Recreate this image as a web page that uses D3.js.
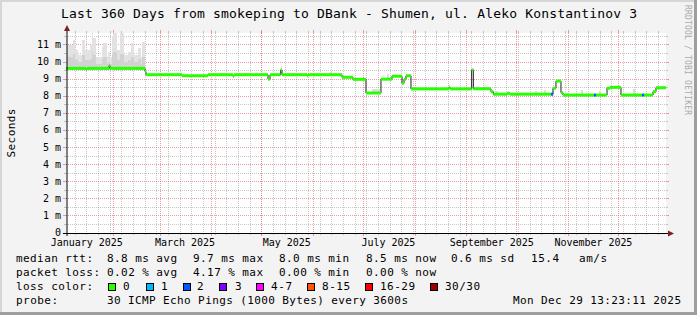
<!DOCTYPE html>
<html><head><meta charset="utf-8">
<script src="https://cdn.jsdelivr.net/npm/d3@7"></script>
<style>
body{margin:0;background:#f3f3f3}
svg{display:block}
text{font-family:"DejaVu Sans Mono",monospace;fill:#000}
</style>
</head><body>
<svg id="c" width="697" height="315"></svg>
<script>
// ---------------- DATA ----------------
const title = "Last 360 Days from smokeping to DBank - Shumen, ul. Aleko Konstantinov 3";
const rangeStart = "2025-01-03 13:23", rangeEnd = "2025-12-29 13:23";
const yTicks = [0,1,2,3,4,5,6,7,8,9,10,11];
const yTickLabels = ["0","1 m","2 m","3 m","4 m","5 m","6 m","7 m","8 m","9 m","10 m","11 m"];
const xLabelDates = ["2025-01-16 00:00","2025-03-16 00:00","2025-05-16 00:00","2025-07-16 00:00","2025-09-16 00:00","2025-11-16 00:00"];
const xLabels = ["January 2025","March 2025","May 2025","July 2025","September 2025","November 2025"];

// median rtt (ms), step changes
const medDates = ["2025-01-03 13:00","2025-01-15 13:00","2025-01-16 04:00","2025-01-29 09:00","2025-01-29 23:00",
 "2025-02-19 23:00","2025-02-20 13:00","2025-03-14 04:00","2025-03-29 18:00","2025-04-13 18:00","2025-04-14 09:00",
 "2025-05-04 18:00","2025-05-05 23:00","2025-05-12 09:00","2025-05-13 04:00","2025-05-28 04:00","2025-05-28 18:00",
 "2025-06-18 04:00","2025-06-24 18:00","2025-07-02 13:00","2025-07-11 13:00","2025-07-18 04:00","2025-07-24 04:00",
 "2025-07-25 09:00","2025-07-26 13:00","2025-07-29 13:00","2025-08-21 09:00","2025-08-21 23:00","2025-09-03 23:00",
 "2025-09-04 23:00","2025-09-15 13:00","2025-09-16 23:00","2025-09-25 04:00","2025-09-26 23:00","2025-10-21 13:00",
 "2025-10-22 18:00","2025-10-24 13:00","2025-10-27 13:00","2025-10-28 18:00","2025-11-16 09:00","2025-11-17 13:00",
 "2025-11-24 04:00","2025-11-25 23:00","2025-12-02 13:00","2025-12-15 04:00","2025-12-16 09:00","2025-12-21 18:00",
 "2025-12-23 13:00"];
const medValues = [9.63,9.56,9.63,9.79,9.63,
 9.45,9.26,9.20,9.26,9.17,9.26,
 9.00,9.26,9.54,9.26,9.20,9.26,
 9.11,8.99,8.19,9.00,9.17,8.76,
 9.00,9.20,8.43,8.53,8.43,9.54,
 8.44,8.27,8.12,8.17,8.12,8.12,
 8.47,8.89,8.21,8.07,8.07,8.07,
 8.47,8.52,8.07,8.07,8.07,8.27,
 8.50];
const medLoss = [0,0,0,0,0, 0,0,0,0,0,0, 0,0,0,0,0,0, 0,0,0,0,0,0, 0,0,0,0,0,0,
 0,0,0,0,0,2, 0,0,0,0,2,0, 0,0,0,2,0,0, 0];

// smoke in the first weeks: column start, outer top, inner top, bottom (ms)
const smokeDates = ["2025-01-04 04:00","2025-01-07 18:00","2025-01-08 23:00","2025-01-10 18:00","2025-01-13 04:00",
 "2025-01-14 23:00","2025-01-17 23:00","2025-01-19 04:00","2025-01-19 18:00","2025-01-21 13:00","2025-01-25 04:00",
 "2025-01-25 18:00","2025-01-28 04:00","2025-01-28 18:00","2025-01-29 23:00","2025-01-31 04:00","2025-01-31 18:00",
 "2025-02-03 04:00","2025-02-04 23:00","2025-02-07 09:00","2025-02-09 18:00","2025-02-11 13:00","2025-02-13 09:00",
 "2025-02-15 18:00","2025-02-17 13:00","2025-02-18 04:00"];
const smokeEnd = "2025-02-19 23:00";
const smokeOuter = [11.0,11.3,10.7,10.4,11.3,10.7,11.0,11.7,11.4,10.3,10.9,11.1,10.3,10.6,10.3,11.5,11.7,10.7,11.7,10.4,10.6,11.1,10.4,10.8,10.3,11.2];
const smokeInner = [10.3,10.5,10.2,10.0,10.4,10.1,10.2,10.6,10.4,9.9,10.2,10.3,9.9,10.0,9.9,10.5,10.6,10.1,10.5,10.0,10.1,10.3,10.0,10.2,9.9,10.3];
const smokeLow = [9.55,9.55,9.55,9.55,9.55,9.55,9.55,9.55,9.55,9.55,9.55,9.55,9.55,9.55,9.55,9.55,9.55,9.55,9.55,9.55,9.55,9.55,9.55,9.55,9.55,9.55];

// scattered small smoke later in the year
const bitStart = ["2025-05-12 13:00","2025-05-17 23:00","2025-06-10 23:00","2025-07-06 04:00","2025-07-15 04:00",
 "2025-08-12 09:00","2025-09-18 13:00","2025-10-11 23:00","2025-10-17 09:00","2025-10-31 04:00","2025-11-08 13:00",
 "2025-11-19 09:00","2025-12-09 18:00","2025-12-27 18:00"];
const bitEnd = ["2025-05-13 04:00","2025-05-19 04:00","2025-06-12 04:00","2025-07-10 23:00","2025-07-16 09:00",
 "2025-08-13 13:00","2025-09-19 18:00","2025-10-13 04:00","2025-10-18 13:00","2025-11-01 09:00","2025-11-09 18:00",
 "2025-11-20 13:00","2025-12-10 23:00","2025-12-28 23:00"];
const bitLow = [9.54,9.26,9.26,8.19,9.00,8.43,8.12,8.12,8.12,8.07,8.07,8.07,8.07,8.50];
const bitHigh = [9.75,9.38,9.40,8.40,9.30,8.56,8.31,8.31,8.37,8.20,8.37,8.31,8.40,8.62];

// legend
const legendRtt = ["8.8 ms avg","9.7 ms max","8.0 ms min","8.5 ms now","0.6 ms sd","15.4","am/s"];
const legendLoss = ["0.02 % avg","4.17 % max","0.00 % min","0.00 % now"];
const lossLabels = ["0","1","2","3","4-7","8-15","16-29","30/30"];
const lossColors = ["#26ff00","#00b8ff","#0059ff","#7e00ff","#ff00ff","#ff5500","#ff0000","#a00000"];
const probeText = "30 ICMP Echo Pings (1000 Bytes) every 3600s";
const stampText = "Mon Dec 29 13:23:11 2025";

// ---------------- DRAW ----------------
const W = 697, H = 315;
const svg = d3.select("#c");
const parse = d3.timeParse("%Y-%m-%d %H:%M");
const x = d3.scaleTime().domain([parse(rangeStart), parse(rangeEnd)]).range([66, 666]);
const y = d3.scaleLinear().domain([0, 11.7]).range([233, 33]);
const px = v => Math.floor(v) + 0.5;

function mono(sel, str, adv) {
  sel.text(str).attr("textLength", str.length * adv).attr("lengthAdjust", "spacing");
  return sel;
}

svg.append("rect").attr("width", W).attr("height", H).attr("fill", "#f3f3f3");
svg.append("rect").attr("x", 0).attr("y", 0).attr("width", W).attr("height", 2).attr("fill", "#d6d6d6");
svg.append("rect").attr("x", 0).attr("y", 0).attr("width", 2).attr("height", H).attr("fill", "#d6d6d6");
svg.append("rect").attr("x", W - 3).attr("y", 0).attr("width", 3).attr("height", H).attr("fill", "#9e9e9e");
svg.append("rect").attr("x", 0).attr("y", H - 3).attr("width", W).attr("height", 3).attr("fill", "#9e9e9e");

// canvas
svg.append("rect").attr("x", 66).attr("y", 33).attr("width", 600).attr("height", 200).attr("fill", "#fff");

const gridMinor = "rgba(143,143,143,0.5)", gridMajor = "rgba(222,80,80,0.55)";
const g = svg.append("g").attr("shape-rendering", "crispEdges");

// horizontal minor grid (every 0.5 ms)
const halfTicks = yTicks.map(t => t + 0.5);
halfTicks.forEach(v => {
  const yy = px(y(v));
  g.append("line").attr("x1", 66).attr("x2", 666).attr("y1", yy).attr("y2", yy)
    .attr("stroke", gridMinor).attr("stroke-dasharray", "1,1");
  g.append("line").attr("x1", 64).attr("x2", 66).attr("y1", yy).attr("y2", yy).attr("stroke", gridMinor);
  g.append("line").attr("x1", 666).attr("x2", 668).attr("y1", yy).attr("y2", yy).attr("stroke", gridMinor);
});
// vertical minor grid (weekly)
const weeks = d3.timeThursday.range(x.domain()[0], x.domain()[1]);
weeks.forEach(d => {
  const xx = px(x(d));
  g.append("line").attr("x1", xx).attr("x2", xx).attr("y1", 33).attr("y2", 233)
    .attr("stroke", gridMinor).attr("stroke-dasharray", "1,1");
  g.append("line").attr("x1", xx).attr("x2", xx).attr("y1", 233).attr("y2", 235).attr("stroke", gridMinor);
  g.append("line").attr("x1", xx).attr("x2", xx).attr("y1", 31).attr("y2", 33).attr("stroke", gridMinor);
});
// major grids
yTicks.forEach(v => {
  const yy = px(y(v));
  g.append("line").attr("x1", 66).attr("x2", 666).attr("y1", yy).attr("y2", yy)
    .attr("stroke", gridMajor).attr("stroke-dasharray", "1,1");
  g.append("line").attr("x1", 63).attr("x2", 66).attr("y1", yy).attr("y2", yy).attr("stroke", gridMajor);
  g.append("line").attr("x1", 666).attr("x2", 669).attr("y1", yy).attr("y2", yy).attr("stroke", gridMajor);
});
const months = d3.timeMonth.range(x.domain()[0], x.domain()[1]);
months.forEach(d => {
  const xx = px(x(d));
  g.append("line").attr("x1", xx).attr("x2", xx).attr("y1", 33).attr("y2", 233)
    .attr("stroke", gridMajor).attr("stroke-dasharray", "1,1");
  g.append("line").attr("x1", xx).attr("x2", xx).attr("y1", 233).attr("y2", 236).attr("stroke", gridMajor);
  g.append("line").attr("x1", xx).attr("x2", xx).attr("y1", 30).attr("y2", 33).attr("stroke", gridMajor);
});

// smoke
const sm = svg.append("g").attr("shape-rendering", "crispEdges");
smokeDates.forEach((d, i) => {
  const x0 = x(parse(d)), x1 = x(parse(i < smokeDates.length - 1 ? smokeDates[i + 1] : smokeEnd));
  sm.append("rect").attr("x", x0).attr("width", x1 - x0)
    .attr("y", y(smokeOuter[i])).attr("height", y(smokeLow[i]) - y(smokeOuter[i])).attr("fill", "#e2e2e2");
  sm.append("rect").attr("x", x0).attr("width", x1 - x0)
    .attr("y", y(smokeInner[i])).attr("height", y(smokeLow[i]) - y(smokeInner[i])).attr("fill", "#d2d2d2");
});
bitStart.forEach((d, i) => {
  const x0 = x(parse(d)), x1 = x(parse(bitEnd[i]));
  sm.append("rect").attr("x", x0).attr("width", x1 - x0)
    .attr("y", y(bitHigh[i])).attr("height", y(bitLow[i]) - y(bitHigh[i])).attr("fill", "#dcdcdc");
});

// median: thin dark step line, then loss-coloured bands
const medPts = medDates.map((d, i) => ({t: parse(d), v: medValues[i], l: medLoss[i]}));
const endT = parse(rangeEnd);
const lineData = medPts.concat([{t: endT, v: medValues[medValues.length - 1]}]);
svg.append("path").datum(lineData)
  .attr("d", d3.line().x(d => x(d.t)).y(d => y(d.v)).curve(d3.curveStepAfter))
  .attr("fill", "none").attr("stroke", "#202020").attr("stroke-width", 1);
const lossColor = l => l <= 0 ? lossColors[0] : l <= 1 ? lossColors[1] : l <= 2 ? lossColors[2] : l <= 3 ? lossColors[3]
  : l <= 7 ? lossColors[4] : l <= 15 ? lossColors[5] : l <= 29 ? lossColors[6] : lossColors[7];
medPts.forEach((p, i) => {
  const t1 = i < medPts.length - 1 ? medPts[i + 1].t : endT;
  const x0 = x(p.t), x1 = x(t1);
  svg.append("rect").attr("x", x0).attr("width", Math.max(1, x1 - x0))
    .attr("y", y(p.v) - 1.5).attr("height", 3).attr("fill", lossColor(p.l));
});

// axes
const ax = svg.append("g");
ax.append("line").attr("x1", 63).attr("x2", 670).attr("y1", 233.5).attr("y2", 233.5).attr("stroke", "#000");
ax.append("line").attr("x1", 67).attr("x2", 67).attr("y1", 236).attr("y2", 30).attr("stroke", "#000");
ax.append("path").attr("d", "M668,230.5 L674,233.5 L668,236.5 Z").attr("fill", "#7f1f1f");
ax.append("path").attr("d", "M64,31 L67,25 L70,31 Z").attr("fill", "#7f1f1f");

// y labels
yTicks.forEach((v, i) => {
  mono(svg.append("text").attr("x", 61).attr("y", y(v) + 3).attr("text-anchor", "end")
    .attr("font-size", "10px"), yTickLabels[i], 6);
});
// x labels
xLabelDates.forEach((d, i) => {
  mono(svg.append("text").attr("x", x(parse(d))).attr("y", 246).attr("text-anchor", "middle")
    .attr("font-size", "10px"), xLabels[i], 6);
});

// title
mono(svg.append("text").attr("x", 349).attr("y", 18).attr("text-anchor", "middle").attr("font-size", "13px"), title, 8);
// y title
mono(svg.append("text").attr("transform", "translate(15,133) rotate(-90)").attr("text-anchor", "middle")
  .attr("font-size", "11px"), "Seconds", 7);
// watermark
mono(svg.append("text").attr("transform", "translate(685,5) rotate(90)").attr("font-size", "8px")
  .style("fill", "#aaaaaa"), "RRDTOOL / TOBI OETIKER", 5);

// legend
const L = svg.append("g").attr("font-size", "11px");
const colX = [107, 193, 279, 366, 451, 531, 579];
mono(L.append("text").attr("x", 16).attr("y", 262), "median rtt:", 7);
legendRtt.forEach((s, i) => mono(L.append("text").attr("x", colX[i]).attr("y", 262), s, 7));
mono(L.append("text").attr("x", 16).attr("y", 276), "packet loss:", 7);
legendLoss.forEach((s, i) => mono(L.append("text").attr("x", colX[i]).attr("y", 276), s, 7));
mono(L.append("text").attr("x", 16).attr("y", 290), "loss color:", 7);
const boxX = [108, 146, 183, 219, 256, 307, 365, 430];
const labX = [123, 161, 197, 235, 271, 322, 380, 445];
lossLabels.forEach((s, i) => {
  L.append("rect").attr("x", boxX[i] + 0.5).attr("y", 283.5).attr("width", 7).attr("height", 7)
    .attr("fill", lossColors[i]).attr("stroke", "#000").attr("shape-rendering", "crispEdges");
  mono(L.append("text").attr("x", labX[i]).attr("y", 290), s, 7);
});
mono(L.append("text").attr("x", 16).attr("y", 304), "probe:", 7);
mono(L.append("text").attr("x", 107).attr("y", 304), probeText, 7);
mono(L.append("text").attr("x", 681).attr("y", 304).attr("text-anchor", "end"), stampText, 7);
</script>
</body></html>
